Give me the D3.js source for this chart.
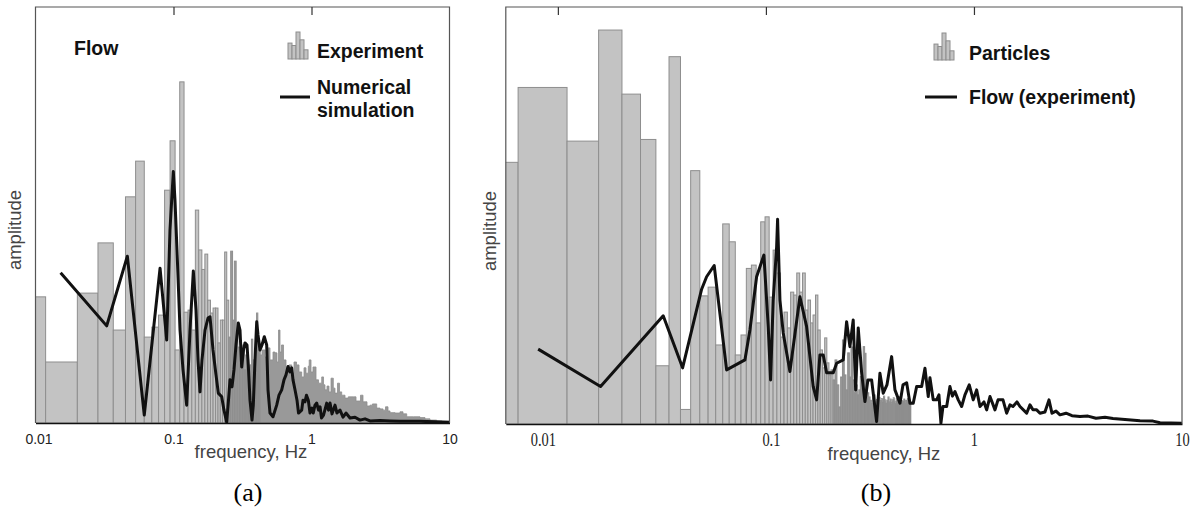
<!DOCTYPE html>
<html>
<head>
<meta charset="utf-8">
<script src="https://cdn.jsdelivr.net/npm/d3@7"></script>
<style>
  html, body { margin: 0; padding: 0; background: #fff; }
  svg { display: block; }
</style>
</head>
<body>
<svg id="chart" width="1197" height="513"></svg>
<script>
// ---- panel (a): flow, experiment vs numerical simulation ----
// experiment spectrum: linear frequency bins, first bin starts at aBinStart
const aBinStart = 0.00358;
const aBinWidth = 0.00826;
const aExperimentBars = [
  30.4, 14.7, 31.3, 43.4, 22.4, 54.5, 63.1, 20.7, 23.1, 26.0,
  56.1, 68.0, 17.6, 82.2, 26.7, 27.2, 22.4, 51.3, 41.7, 37.0,
  40.7, 29.6, 26.5, 27.7, 27.7, 19.3, 24.8, 24.8, 41.2, 29.6,
  20.7, 41.4, 24.8, 39.0, 21.2, 18.3, 17.6, 15.2, 18.8, 12.8,
  16.4, 15.2, 10.4, 14.0, 20.2, 15.2, 11.6, 12.8, 26.5, 20.0,
  17.6
];
// above ~0.42 Hz the bins are narrower than a pixel: read as an envelope [Hz, amplitude]
const aExperimentTail = [
  [0.4248, 16.4], [0.4378, 17.6], [0.4603, 15.9], [0.484, 18.1], [0.5004, 15.2],
  [0.526, 17.1], [0.5438, 16.9], [0.5623, 14.7], [0.5766, 22.4], [0.5912, 17.1],
  [0.6062, 18.8], [0.627, 15.2], [0.6535, 13.5], [0.6871, 14.0], [0.7188, 12.0],
  [0.7469, 14.7], [0.7787, 14.0], [0.8119, 12.3], [0.8492, 11.1], [0.8824, 13.3],
  [0.9123, 12.0], [0.948, 13.7], [0.9623, 15.2], [0.9917, 12.3], [1.025, 13.5],
  [1.078, 10.4], [1.124, 9.6], [1.186, 11.1], [1.222, 9.2], [1.252, 8.0],
  [1.295, 8.9], [1.339, 7.5], [1.385, 10.8], [1.439, 8.4], [1.48, 7.2],
  [1.543, 9.6], [1.596, 7.5], [1.655, 6.7], [1.749, 6.0], [1.848, 6.3],
  [1.933, 6.3], [2.009, 6.3], [2.102, 5.3], [2.265, 6.7], [2.361, 5.1],
  [2.525, 4.1], [2.655, 4.3], [2.767, 4.6], [2.968, 3.6], [3.136, 3.4],
  [3.297, 3.1], [3.438, 3.9], [3.584, 2.9], [3.707, 2.5], [4.029, 2.4],
  [4.378, 2.7], [4.603, 2.2], [4.897, 1.5], [5.468, 1.5], [6.112, 1.3],
  [6.646, 1.0], [7.226, 0.7], [8.076, 0.5], [8.826, 0.4], [10, 0.2]
];
const aSimulation = [
  [0.0152, 36.2], [0.0328, 23.4], [0.0463, 40.2], [0.0614, 1.9], [0.0799, 37.3],
  [0.0839, 29.6], [0.0893, 20.0], [0.0943, 46.5], [0.0997, 60.6], [0.1025, 53.7],
  [0.106, 41.7], [0.1115, 22.4], [0.1172, 12.8], [0.1246, 4.3], [0.1317, 22.4],
  [0.1392, 36.6], [0.1456, 27.2], [0.1505, 15.2], [0.1556, 7.5], [0.1609, 15.2],
  [0.1692, 22.4], [0.1778, 25.3], [0.1839, 25.6], [0.1933, 17.6], [0.2032, 11.6],
  [0.2112, 7.2], [0.2235, 6.3], [0.2322, 3.1], [0.2429, 0.2], [0.2503, 5.5],
  [0.2567, 10.4], [0.2654, 8.7], [0.2744, 12.8], [0.2837, 18.8], [0.2949, 24.1],
  [0.3033, 22.4], [0.312, 13.5], [0.3215, 17.6], [0.3297, 19.3], [0.3409, 18.8],
  [0.3483, 14.0], [0.3584, 5.5], [0.3706, 0.7], [0.3787, 4.3], [0.3896, 15.2],
  [0.4008, 24.4], [0.4096, 21.2], [0.4235, 17.6], [0.4378, 18.8], [0.455, 20.8],
  [0.4736, 18.8], [0.484, 8.0], [0.5004, 2.4], [0.526, 1.5], [0.5595, 4.3],
  [0.5815, 6.7], [0.6081, 8.0], [0.632, 10.4], [0.6535, 11.6], [0.6757, 13.6],
  [0.6987, 12.3], [0.7188, 13.3], [0.7345, 10.4], [0.7594, 8.0], [0.7852, 5.5],
  [0.8051, 2.4], [0.8492, 3.1], [0.8678, 5.5], [0.8972, 5.1], [0.9198, 6.7],
  [0.948, 5.5], [0.9752, 2.4], [1.008, 3.6], [1.03, 2.4], [1.06, 4.3],
  [1.091, 4.8], [1.124, 3.1], [1.153, 3.9], [1.182, 1.2], [1.222, 1.9],
  [1.289, 4.8], [1.328, 3.1], [1.362, 4.8], [1.408, 2.2], [1.48, 4.3],
  [1.53, 2.4], [1.609, 3.1], [1.692, 1.4], [1.778, 2.4], [1.901, 1.2],
  [2.067, 1.4], [2.246, 0.7], [2.442, 1.0], [2.655, 0.5], [3.136, 0.6],
  [3.707, 0.5], [4.378, 0.4], [6.112, 0.4], [9.92, 0.2]
];

// ---- panel (b): particles vs flow (experiment) ----
const bBinStart = 0.00181;
const bBinWidth = 0.00463;
const bParticleBars = [
  62.9, 80.9, 68.0, 94.7, 79.3, 68.4, 14.0, 88.3, 3.5, 60.9,
  30.8, 32.9, 19.0, 48.1, 43.8, 16.6, 21.4, 37.4, 38.2, 24.3,
  48.6, 49.8, 30.5, 41.8, 36.3, 20.9, 26.9, 23.1, 31.7, 31.0,
  36.3, 31.7, 36.3, 27.4, 29.8, 24.3, 26.2, 31.0, 22.6, 17.8,
  13.5, 20.7, 14.7, 11.8, 13.0, 10.6, 15.4, 9.4, 4.1, 11.3,
  20.2, 11.8, 8.2, 17.1, 11.3, 18.5, 10.6, 7.5, 9.4, 7.0,
  8.2, 11.4, 8.5, 18.6, 17.0, 10.6, 7.5, 6.5, 5.7, 4.9,
  6.3, 7.0, 5.5, 5.9, 4.8, 6.4, 5.6, 6.1, 5.2, 6.7,
  5.8, 5.0, 5.7, 6.5, 5.3, 6.0, 5.1, 5.8, 6.3, 5.5,
  4.9, 6.1, 5.7, 5.2, 6.6, 5.9, 5.1, 5.6, 5.4, 6.0,
  4.9, 5.7, 5.5, 6.1, 5.2, 5.8, 5.4
];
const bFlowExperiment = [
  [0.00804, 18.0], [0.01604, 9.0], [0.03209, 26.0], [0.03977, 13.5], [0.04909, 32.4],
  [0.05187, 35.4], [0.05642, 38.1], [0.06473, 13.0], [0.07926, 15.4], [0.08378, 22.6],
  [0.09022, 35.4], [0.09781, 40.6], [0.1026, 23.4], [0.1053, 10.6], [0.1084, 29.8],
  [0.1126, 42.6], [0.1138, 49.2], [0.1168, 29.8], [0.1211, 21.9], [0.1304, 12.6],
  [0.1457, 30.6], [0.1569, 23.4], [0.1688, 9.0], [0.1753, 5.8], [0.1818, 16.6],
  [0.1886, 16.6], [0.1958, 12.3], [0.2107, 12.3], [0.2188, 14.6], [0.2353, 15.4],
  [0.2443, 24.6], [0.2534, 18.6], [0.2628, 25.0], [0.27, 8.2], [0.2778, 23.1],
  [0.2885, 12.3], [0.2992, 5.4], [0.3093, 10.6], [0.3222, 10.6], [0.3405, 0.6],
  [0.3532, 12.2], [0.3664, 7.4], [0.3817, 9.4], [0.4021, 16.2], [0.4171, 8.2],
  [0.4409, 5.0], [0.4558, 9.4], [0.4748, 9.9], [0.4924, 5.0], [0.5107, 5.0],
  [0.5303, 9.0], [0.5606, 9.0], [0.5814, 13.4], [0.603, 6.6], [0.6144, 11.1],
  [0.6372, 5.8], [0.6617, 5.8], [0.6787, 7.0], [0.6939, 0.2], [0.7096, 4.2],
  [0.7393, 4.2], [0.7666, 9.0], [0.7881, 6.7], [0.8103, 7.8], [0.8404, 5.8],
  [0.8727, 4.2], [0.9051, 7.0], [0.9493, 9.4], [0.9922, 5.8], [1.03, 8.2],
  [1.069, 4.2], [1.117, 5.3], [1.151, 3.4], [1.194, 6.6], [1.262, 3.4],
  [1.305, 5.8], [1.379, 5.8], [1.436, 2.6], [1.49, 4.6], [1.54, 4.2],
  [1.609, 5.3], [1.664, 4.2], [1.792, 2.6], [1.859, 4.6], [1.921, 3.4],
  [2.002, 3.4], [2.076, 2.6], [2.194, 2.9], [2.294, 5.8], [2.371, 2.6],
  [2.48, 3.1], [2.592, 2.2], [2.769, 2.6], [2.959, 2.0], [3.233, 1.8],
  [3.532, 1.9], [3.859, 1.4], [4.264, 1.6], [4.659, 1.3], [5.321, 1.1],
  [6.283, 0.8], [7.254, 0.7], [7.839, 0.3], [10, 0.2]
];

const tickValues = [0.01, 0.1, 1, 10];
// relative heights of the little histogram drawn as legend symbol
const legendIconBars = [0.59, 0.5, 1, 0.71, 0.34];

const SANS = '"Liberation Sans", Arial, sans-serif';
const SERIF = '"Liberation Serif", "Times New Roman", serif';
const BAR_FILL = '#c3c3c3';
const BAR_EDGE = '#8e8e8e';
const DENSE_FILL = '#999';

const svg = d3.select('#chart');

function drawIcon(g, x0, yBase) {
    const w = 4, h = 27;
    g.selectAll(null)
        .data(legendIconBars)
        .join('rect')
        .attr('x', (d, i) => x0 + i * w)
        .attr('y', d => yBase - d * h)
        .attr('width', w)
        .attr('height', d => d * h)
        .attr('fill', BAR_FILL)
        .attr('stroke', BAR_EDGE)
        .attr('stroke-width', 1);
}

function drawPanel(p) {
    const x = d3.scaleLog().domain(p.xDomain).range([p.left, p.right]);
    const y = d3.scaleLinear().domain([0, 100]).range([p.bottom, p.top + 1]);

    const g = svg.append('g');

    g.append('clipPath')
        .attr('id', 'clip-' + p.id)
        .append('rect')
        .attr('x', p.left)
        .attr('y', p.top)
        .attr('width', p.right - p.left)
        .attr('height', p.bottom - p.top);

    const plot = g.append('g').attr('clip-path', `url(#clip-${p.id})`);

    const x0 = i => x(p.binStart + i * p.binWidth);
    const x1 = i => x(p.binStart + (i + 1) * p.binWidth);

    // histogram bars; very narrow ones merge into a darker grey in the original
    plot.selectAll('rect.bar')
        .data(p.bars)
        .join('rect')
        .attr('class', 'bar')
        .attr('x', (d, i) => x0(i))
        .attr('width', (d, i) => x1(i) - x0(i))
        .attr('y', d => y(d))
        .attr('height', d => y(0) - y(d))
        .attr('fill', (d, i) => (x1(i) - x0(i) < 2 ? DENSE_FILL : BAR_FILL))
        .attr('stroke', BAR_EDGE)
        .attr('stroke-width', 1);

    // dense high-frequency part
    if (p.tail) {
        const area = d3.area()
            .x(d => x(d[0]))
            .y0(y(0))
            .y1(d => y(d[1]))
            .curve(d3.curveStepAfter);
        plot.append('path')
            .datum(p.tail)
            .attr('d', area)
            .attr('fill', DENSE_FILL)
            .attr('stroke', BAR_EDGE)
            .attr('stroke-width', 0.8);
    }

    const line = d3.line()
        .x(d => x(d[0]))
        .y(d => y(d[1]));

    plot.append('path')
        .datum(p.line)
        .attr('d', line)
        .attr('fill', 'none')
        .attr('stroke', '#111')
        .attr('stroke-width', 3)
        .attr('stroke-linejoin', 'round');

    // frame
    g.append('path')
        .attr('d', `M${p.left},${p.bottom}V${p.top}H${p.right}V${p.bottom}`)
        .attr('fill', 'none')
        .attr('stroke', '#555')
        .attr('stroke-width', 1.2);

    // small ticks hanging from the top edge
    const topAxis = g.append('g')
        .attr('transform', `translate(0,${p.top})`)
        .call(d3.axisBottom(x).tickValues(p.topTicks).tickSize(8).tickFormat(''));
    topAxis.select('.domain').remove();
    topAxis.selectAll('line').attr('stroke', '#333').attr('stroke-width', 1.2);

    // bottom axis
    const xAxis = g.append('g')
        .attr('transform', `translate(0,${p.bottom})`)
        .call(d3.axisBottom(x)
            .tickValues(tickValues)
            .tickSize(0)
            .tickSizeOuter(0)
            .tickPadding(p.tickPadding)
            .tickFormat(d3.format('~g')));
    xAxis.select('.domain').attr('stroke', '#111').attr('stroke-width', 1.6);
    xAxis.selectAll('text')
        .attr('font-family', p.tickFont)
        .attr('font-size', p.tickSize)
        .attr('fill', '#222')
        .attr('transform', d => `translate(${p.tickNudge[d] || 0},0) scale(${p.tickScaleX},1)`);

    // axis titles
    g.append('text')
        .attr('transform', `translate(${p.yTitleX},${p.yTitleY}) rotate(-90)`)
        .attr('text-anchor', 'middle')
        .attr('font-family', SANS)
        .attr('font-size', 18.5)
        .attr('fill', '#444')
        .text('amplitude');

    g.append('text')
        .attr('x', p.xTitleX)
        .attr('y', p.xTitleY)
        .attr('text-anchor', 'middle')
        .attr('font-family', SANS)
        .attr('font-size', 18.5)
        .attr('fill', '#444')
        .text('frequency, Hz');

    g.append('text')
        .attr('x', p.captionX)
        .attr('y', 501)
        .attr('text-anchor', 'middle')
        .attr('font-family', SERIF)
        .attr('font-size', 26)
        .attr('fill', '#000')
        .text(p.caption);

    // legend
    const lg = g.append('g')
        .attr('font-family', SANS)
        .attr('font-weight', 'bold')
        .attr('font-size', 19.5)
        .attr('fill', '#111');

    if (p.title) {
        lg.append('text').attr('x', p.title.x).attr('y', p.title.y).text(p.title.text);
    }
    drawIcon(lg, p.legend.iconX, p.legend.iconBase);
    lg.append('text')
        .attr('x', p.legend.textX)
        .attr('y', p.legend.barY)
        .text(p.legend.barLabel);

    lg.append('line')
        .attr('x1', p.legend.lineX1)
        .attr('x2', p.legend.lineX2)
        .attr('y1', p.legend.lineY)
        .attr('y2', p.legend.lineY)
        .attr('stroke', '#111')
        .attr('stroke-width', 3);
    p.legend.lineLabel.forEach((t, i) => {
        lg.append('text')
            .attr('x', p.legend.textX)
            .attr('y', p.legend.lineLabelY + i * 23)
            .text(t);
    });
}

drawPanel({
    id: 'a',
    xDomain: [0.01, 10],
    left: 35.5, right: 449.5, top: 7, bottom: 423,
    bars: aExperimentBars, binStart: aBinStart, binWidth: aBinWidth,
    tail: aExperimentTail,
    line: aSimulation,
    topTicks: [0.1, 1],
    tickPadding: 11, tickFont: SANS, tickSize: 14, tickScaleX: 1,
    tickNudge: { 0.01: 3 },
    yTitleX: 21, yTitleY: 230,
    xTitleX: 251, xTitleY: 458,
    captionX: 248, caption: '(a)',
    title: { text: 'Flow', x: 74, y: 55 },
    legend: {
        iconX: 288, iconBase: 59,
        textX: 317, barY: 57.5, barLabel: 'Experiment',
        lineX1: 280, lineX2: 310, lineY: 97,
        lineLabel: ['Numerical', 'simulation'], lineLabelY: 93.5
    }
});

drawPanel({
    id: 'b',
    xDomain: [0.00562, 10],
    left: 505.8, right: 1182, top: 7, bottom: 424,
    bars: bParticleBars, binStart: bBinStart, binWidth: bBinWidth,
    tail: null,
    line: bFlowExperiment,
    topTicks: [0.01, 0.1, 1],
    tickPadding: 9, tickFont: SERIF, tickSize: 19, tickScaleX: 0.76,
    tickNudge: { 0.01: -15, 0.1: 5 },
    yTitleX: 496, yTitleY: 231,
    xTitleX: 884, xTitleY: 459.5,
    captionX: 876, caption: '(b)',
    title: null,
    legend: {
        iconX: 934, iconBase: 60,
        textX: 969, barY: 59.5, barLabel: 'Particles',
        lineX1: 925, lineX2: 957, lineY: 97,
        lineLabel: ['Flow (experiment)'], lineLabelY: 104
    }
});
</script>
</body>
</html>
